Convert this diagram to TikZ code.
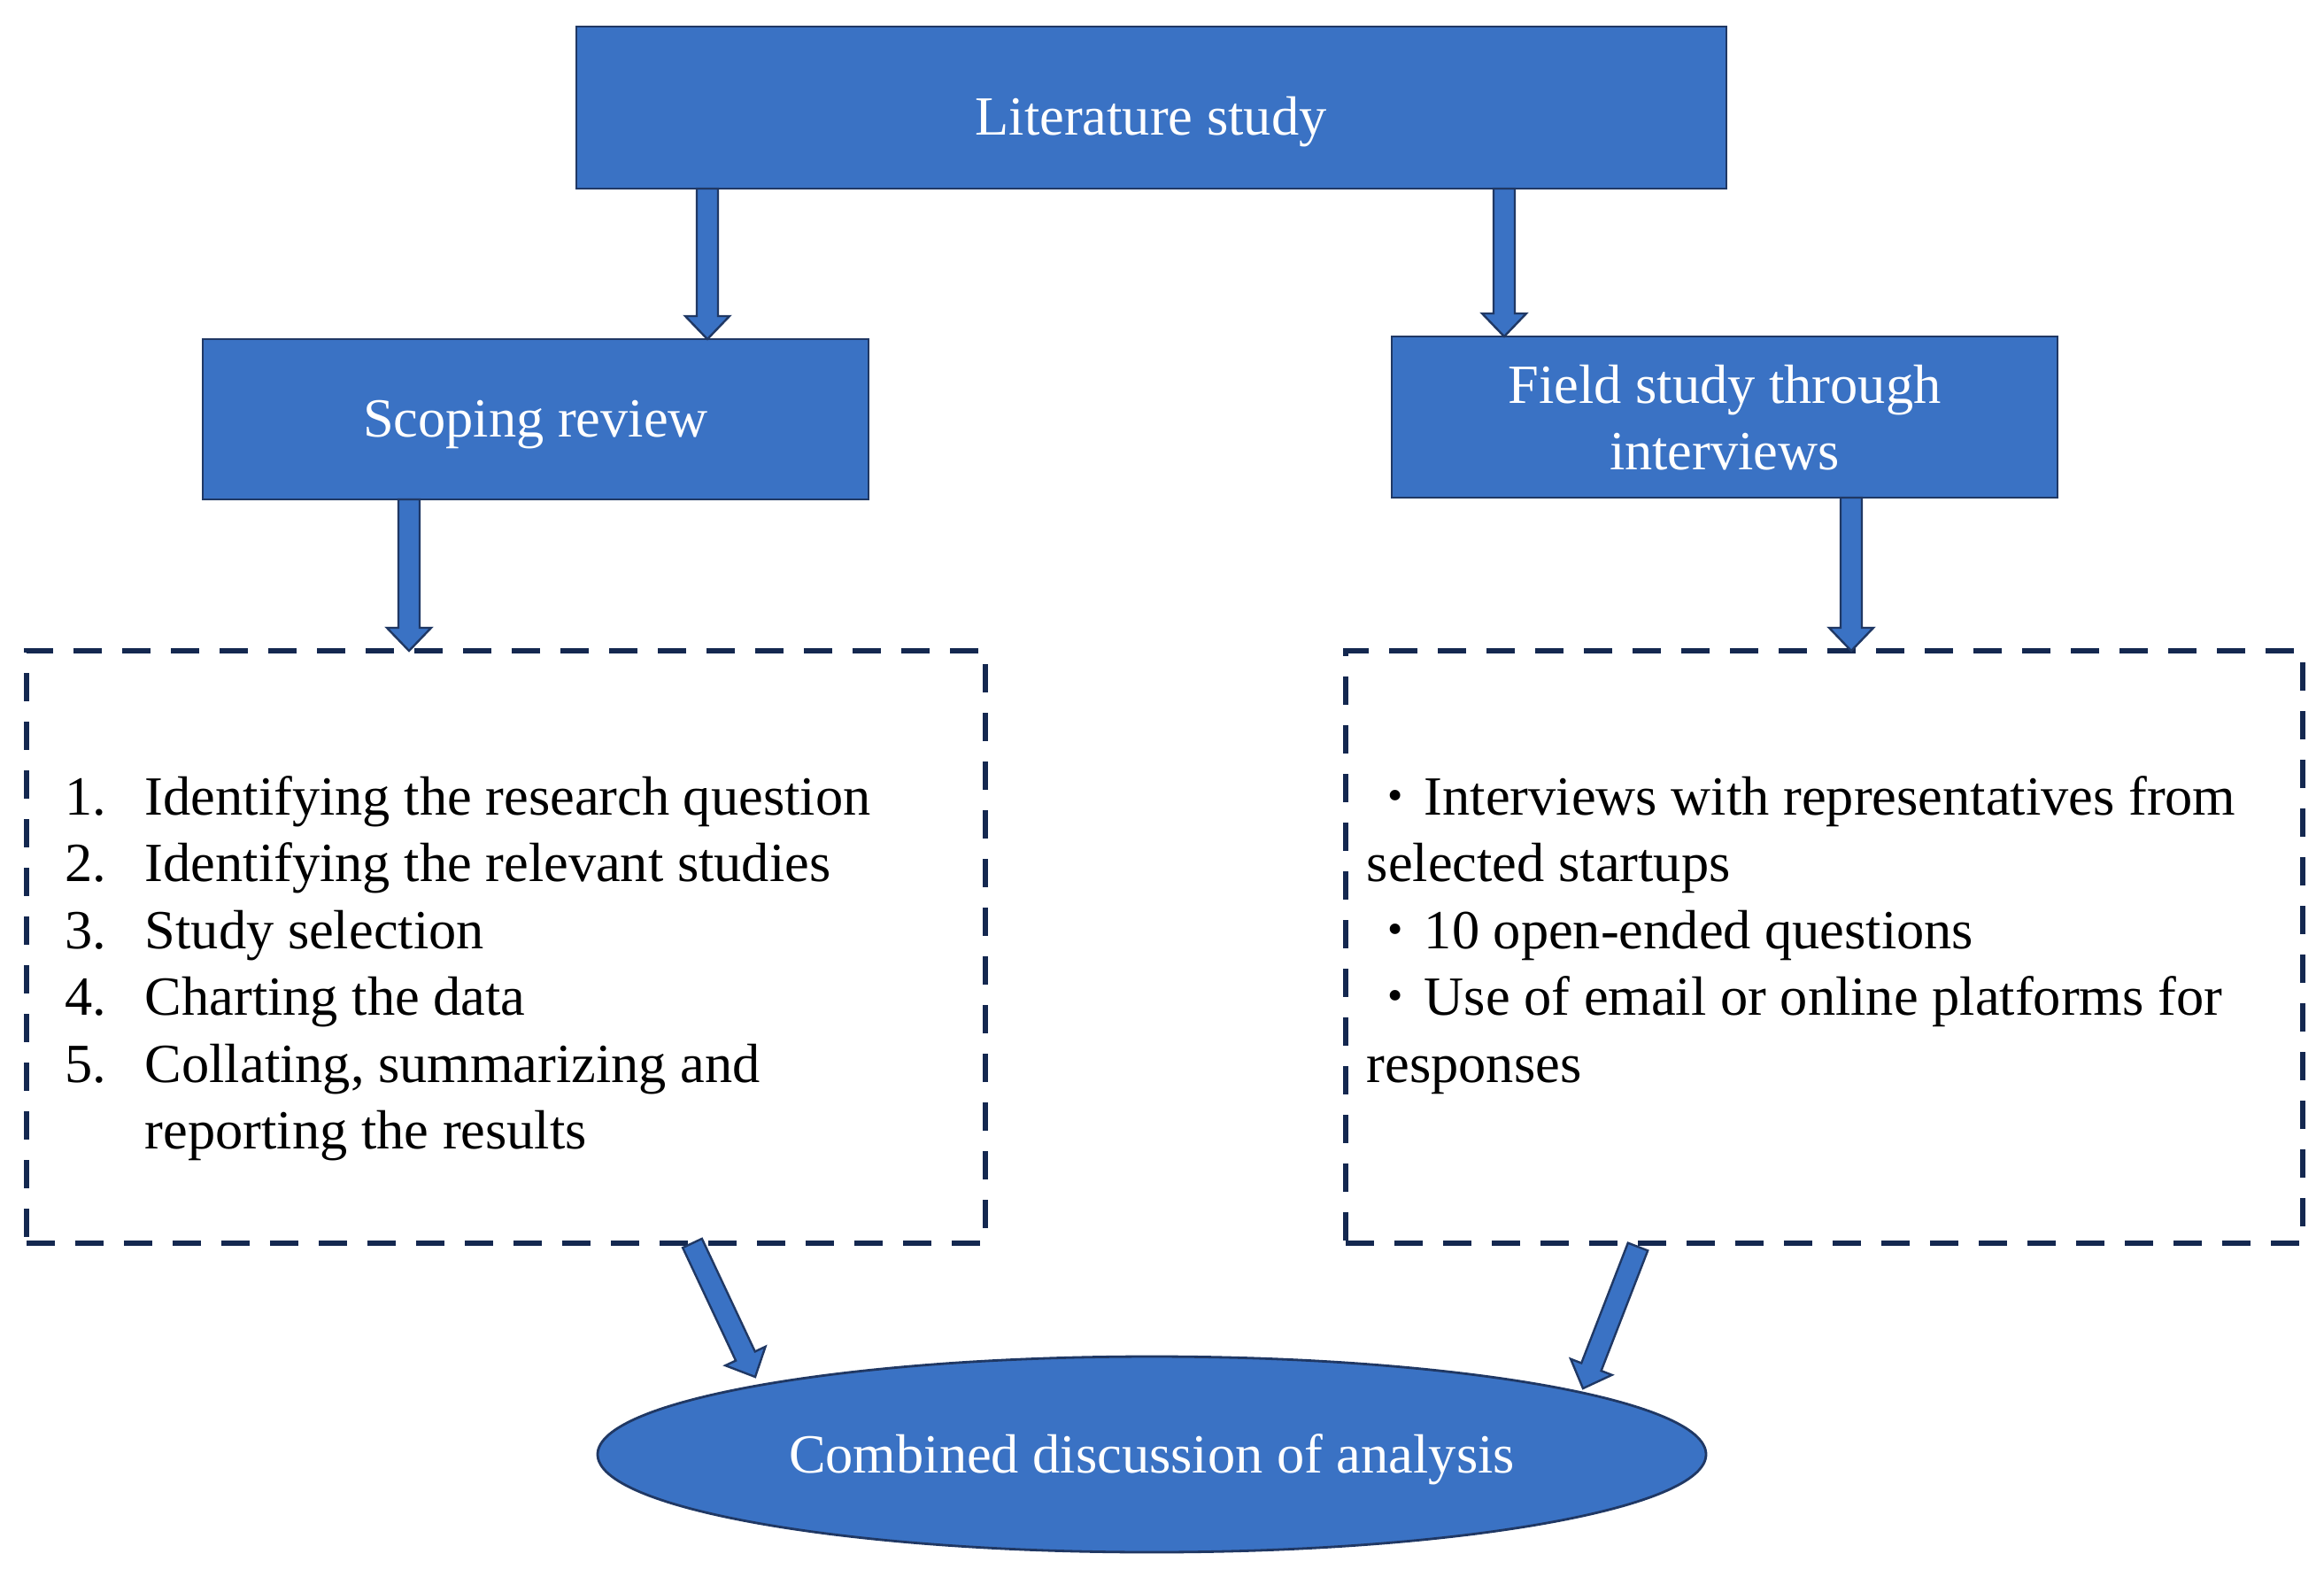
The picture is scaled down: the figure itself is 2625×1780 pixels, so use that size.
\documentclass[tikz,border=0pt]{standalone}
\usepackage{fontspec}
\setmainfont{Liberation Serif}
\usetikzlibrary{calc,shapes.geometric}
\definecolor{boxblue}{HTML}{3A72C4}
\definecolor{edgeblue}{HTML}{203864}
\definecolor{dashnavy}{HTML}{142850}
\newcommand\blockarrow[3]{%
  \coordinate (#1h) at ($(#3)!6.5pt!(#2)$);
  \draw[blockarr] ($(#2)!3pt!90:(#3)$) -- ($(#1h)!3pt!90:(#3)$) -- ($(#1h)!6.25pt!90:(#3)$)
    -- (#3) -- ($(#1h)!6.25pt!-90:(#3)$) -- ($(#1h)!3pt!-90:(#3)$) -- ($(#2)!3pt!-90:(#3)$) -- cycle;
}
\newcommand\bulletdot{\makebox[16.25pt]{\raisebox{-0.18em}{\scalebox{1.6}{\textperiodcentered}}}}
\tikzset{
  bluebox/.style={draw=edgeblue, line width=0.7pt, fill=boxblue, rectangle, inner sep=0pt, outer sep=0pt},
  blueoval/.style={draw=edgeblue, line width=0.7pt, fill=boxblue, ellipse, inner sep=0pt, outer sep=0pt},
  dashbox/.style={draw=dashnavy, line width=1.6pt, dash pattern=on 8pt off 5.75pt, rectangle, inner sep=0pt, outer sep=0pt},
  blockarr/.style={draw=edgeblue, line width=0.6pt, fill=boxblue, line join=miter},
  title/.style={text=white, font=\fontsize{15.6pt}{18.8pt}\selectfont, anchor=base, inner sep=0pt},
  body/.style={text=black, font=\fontsize{15.6pt}{18.8pt}\selectfont, anchor=base west, inner sep=0pt}
}
\begin{document}
\begin{tikzpicture}[x=0.25pt,y=-0.25pt]
\useasboundingbox (0,0) rectangle (2625,1780);
% shapes
\node[bluebox, minimum width=324.75pt, minimum height=45.75pt] (lit) at (1300.5,121.5) {};
\node[bluebox, minimum width=188pt, minimum height=45.25pt] (scop) at (605,473.5) {};
\node[bluebox, minimum width=188pt, minimum height=45.5pt] (field) at (1948,471) {};
\node[dashbox, minimum width=270.75pt, minimum height=167.25pt] (ldash) at (571.5,1069.5) {};
\node[dashbox, minimum width=270.25pt, minimum height=167.25pt] (rdash) at (2060.5,1069.5) {};
\node[blueoval, minimum width=313pt, minimum height=55.25pt] (comb) at (1301,1642.5) {};
% titles
\node[title] (tlit) at (1300,152) {Literature study};
\node[title] (tscop) at (605,493) {Scoping review};
\node[title] (tfield1) at (1948,455) {Field study through};
\node[title] (tfield2) at (1948,530) {interviews};
\node[title] (tcomb) at (1301,1663) {Combined discussion of analysis};
% left list
\node[body] (l1) at (73,920) {\makebox[22.5pt][l]{1.}Identifying the research question};
\node[body] (l2) at (73,995) {\makebox[22.5pt][l]{2.}Identifying the relevant studies};
\node[body] (l3) at (73,1071) {\makebox[22.5pt][l]{3.}Study selection};
\node[body] (l4) at (73,1146) {\makebox[22.5pt][l]{4.}Charting the data};
\node[body] (l5) at (73,1222) {\makebox[22.5pt][l]{5.}Collating, summarizing and};
\node[body] (l6) at (73,1297) {\makebox[22.5pt][l]{}reporting the results};
% right list
\node[body] (r1) at (1543,920) {\bulletdot Interviews with representatives from};
\node[body] (r2) at (1543,995) {selected startups};
\node[body] (r3) at (1543,1071) {\bulletdot 10 open-ended questions};
\node[body] (r4) at (1543,1146) {\bulletdot Use of email or online platforms for};
\node[body] (r5) at (1543,1222) {responses};
% arrow end points
\coordinate (a1s) at (799,213);  \coordinate (a1e) at (799,383);
\coordinate (a2s) at (1699,213); \coordinate (a2e) at (1699,380);
\coordinate (a3s) at (462,564);  \coordinate (a3e) at (462,735);
\coordinate (a4s) at (2091,562); \coordinate (a4e) at (2091,735);
\coordinate (a5s) at (782,1404); \coordinate (a5e) at (853,1555);
\coordinate (a6s) at (1850,1408); \coordinate (a6e) at (1788,1568);
\blockarrow{a1}{a1s}{a1e}
\blockarrow{a2}{a2s}{a2e}
\blockarrow{a3}{a3s}{a3e}
\blockarrow{a4}{a4s}{a4e}
\blockarrow{a5}{a5s}{a5e}
\blockarrow{a6}{a6s}{a6e}
\end{tikzpicture}
\end{document}
